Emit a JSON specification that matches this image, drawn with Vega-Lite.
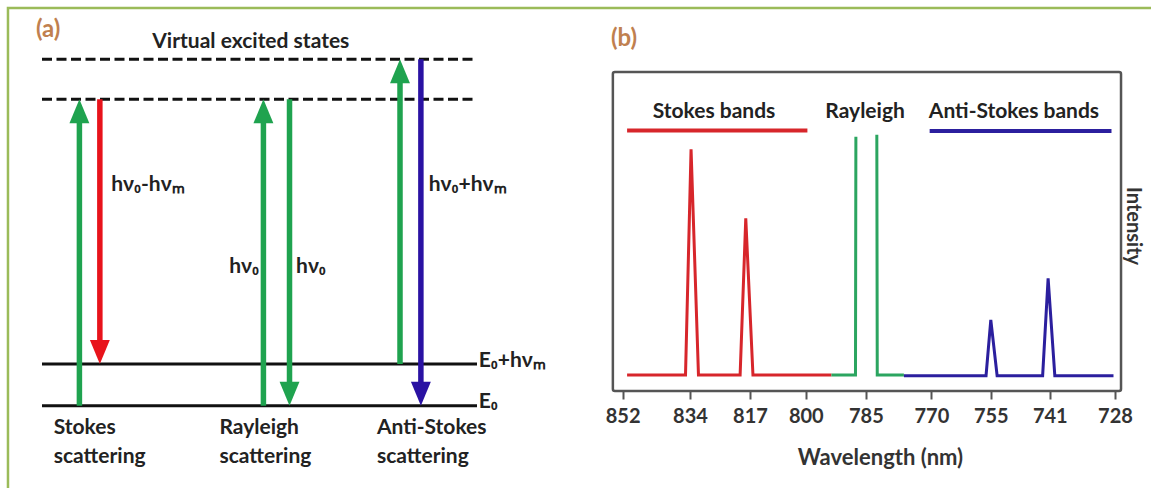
{
  "$schema": "https://vega.github.io/schema/vega-lite/v6.json",
  "width": 1151,
  "height": 488,
  "autosize": {"type": "none"},
  "padding": 0,
  "background": "white",
  "config": {"view": {"stroke": null}},
  "datasets": {
    "border": [{"x": -7.82, "x2": 300, "y": 9.54, "y2": -3}],
    "levels": [
      {"level": "E0", "x0": 0, "x1": 100, "y": 0, "style": "solid"},
      {"level": "E0+hvm", "x0": 0, "x1": 100, "y": 1, "style": "solid"},
      {"level": "virtual 1", "x0": 0, "x1": 100, "y": 7.35, "style": "dashed"},
      {"level": "virtual 2", "x0": 0, "x1": 100, "y": 8.31, "style": "dashed"}
    ],
    "arrows": [
      {"x": 8.6, "from": 0, "to": 7.35, "kind": "incident", "dir": "up"},
      {"x": 13.3, "from": 7.35, "to": 1, "kind": "stokes", "dir": "down"},
      {"x": 50.9, "from": 0, "to": 7.35, "kind": "incident", "dir": "up"},
      {"x": 56.9, "from": 7.35, "to": 0, "kind": "rayleigh", "dir": "down"},
      {"x": 82.3, "from": 1, "to": 8.31, "kind": "incident", "dir": "up"},
      {"x": 87.1, "from": 8.31, "to": 0, "kind": "antistokes", "dir": "down"}
    ],
    "textsA": [
      {"t": "hν₀-hνₘ", "x": 15.9, "y": 5.29, "al": "left"},
      {"t": "hν₀+hνₘ", "x": 88.9, "y": 5.29, "al": "left"},
      {"t": "hν₀", "x": 58.4, "y": 3.33, "al": "left"},
      {"t": "hν₀", "x": 49.9, "y": 3.33, "al": "right"},
      {"t": "E₀+hνₘ", "x": 100.4, "y": 1.06, "al": "left"},
      {"t": "E₀", "x": 100.4, "y": 0.1, "al": "left"},
      {"t": "Stokes", "x": 2.7, "y": -0.54, "al": "left"},
      {"t": "scattering", "x": 2.7, "y": -1.22, "al": "left"},
      {"t": "Rayleigh", "x": 40.8, "y": -0.54, "al": "left"},
      {"t": "scattering", "x": 40.8, "y": -1.22, "al": "left"},
      {"t": "Anti-Stokes", "x": 77, "y": -0.54, "al": "left"},
      {"t": "scattering", "x": 77, "y": -1.22, "al": "left"},
      {"t": "Virtual excited states", "x": 48, "y": 8.72, "al": "center"}
    ],
    "panelA": [{"t": "(a)", "x": -1.4, "y": 9.01}],
    "frameB": [{"wl0": 854.6, "wl1": 726.8, "i0": 0, "i1": 100}],
    "spectrum": [
      {"wl": 850.8, "int": 5, "band": "stokes", "seg": "s", "i": 0},
      {"wl": 835.2, "int": 5, "band": "stokes", "seg": "s", "i": 1},
      {"wl": 833.7, "int": 75.8, "band": "stokes", "seg": "s", "i": 2},
      {"wl": 831.6, "int": 5, "band": "stokes", "seg": "s", "i": 3},
      {"wl": 819.8, "int": 5, "band": "stokes", "seg": "s", "i": 4},
      {"wl": 818.2, "int": 54.1, "band": "stokes", "seg": "s", "i": 5},
      {"wl": 816.1, "int": 5, "band": "stokes", "seg": "s", "i": 6},
      {"wl": 793.6, "int": 5, "band": "stokes", "seg": "s", "i": 7},
      {"wl": 793.6, "int": 5, "band": "rayleigh", "seg": "r1", "i": 8},
      {"wl": 787.6, "int": 5, "band": "rayleigh", "seg": "r1", "i": 9},
      {"wl": 787.5, "int": 79.7, "band": "rayleigh", "seg": "r1", "i": 10},
      {"wl": 782.5, "int": 80.3, "band": "rayleigh", "seg": "r2", "i": 11},
      {"wl": 782.4, "int": 5, "band": "rayleigh", "seg": "r2", "i": 12},
      {"wl": 776.3, "int": 5, "band": "rayleigh", "seg": "r2", "i": 13},
      {"wl": 776.3, "int": 4.8, "band": "antistokes", "seg": "a", "i": 14},
      {"wl": 756.2, "int": 4.8, "band": "antistokes", "seg": "a", "i": 15},
      {"wl": 755.0, "int": 22.3, "band": "antistokes", "seg": "a", "i": 16},
      {"wl": 753.5, "int": 4.8, "band": "antistokes", "seg": "a", "i": 17},
      {"wl": 742.7, "int": 4.8, "band": "antistokes", "seg": "a", "i": 18},
      {"wl": 741.4, "int": 35.3, "band": "antistokes", "seg": "a", "i": 19},
      {"wl": 740.0, "int": 4.8, "band": "antistokes", "seg": "a", "i": 20},
      {"wl": 728.3, "int": 4.8, "band": "antistokes", "seg": "a", "i": 21}
    ],
    "headers": [
      {"band": "stokes", "from": 850.8, "to": 799.6, "int": 81.7},
      {"band": "antistokes", "from": 770.4, "to": 728.7, "int": 81.5}
    ],
    "textsB": [
      {"t": "Stokes bands", "wl": 827.2, "int": 87.6},
      {"t": "Rayleigh", "wl": 785.2, "int": 87.6},
      {"t": "Anti-Stokes bands", "wl": 749.5, "int": 87.6}
    ],
    "panelB": [{"t": "(b)", "wl": 855.1, "int": 110.3}],
    "intensity": [{"t": "Intensity", "wl": 724.4, "int": 51.7}]
  },
  "layer": [
    {
      "data": {"name": "border"},
      "mark": {"type": "rect", "fillOpacity": 0, "stroke": "#9BBB59", "strokeWidth": 2.5},
      "encoding": {
        "x": {"field": "x", "type": "quantitative", "scale": {"type": "linear", "domain": [0, 100], "range": [42, 477], "nice": false, "zero": false}, "axis": null},
        "x2": {"field": "x2"},
        "y": {"field": "y", "type": "quantitative", "scale": {"type": "linear", "domain": [0, 1], "range": [405.7, 364], "nice": false, "zero": false}, "axis": null},
        "y2": {"field": "y2"}
      }
    },
    {
      "data": {"name": "levels"},
      "transform": [{"filter": "datum.style === 'solid'"}],
      "mark": {"type": "rule", "color": "#111111", "strokeWidth": 3},
      "encoding": {
        "x": {"field": "x0", "type": "quantitative", "scale": {"type": "linear", "domain": [0, 100], "range": [42, 477], "nice": false, "zero": false}, "axis": null},
        "x2": {"field": "x1"},
        "y": {"field": "y", "type": "quantitative", "scale": {"type": "linear", "domain": [0, 1], "range": [405.7, 364], "nice": false, "zero": false}, "axis": null}
      }
    },
    {
      "data": {"name": "levels"},
      "transform": [{"filter": "datum.style === 'dashed'"}],
      "mark": {"type": "rule", "color": "#111111", "strokeWidth": 3, "strokeDash": [10, 4.5]},
      "encoding": {
        "x": {"field": "x0", "type": "quantitative", "scale": {"type": "linear", "domain": [0, 100], "range": [42, 477], "nice": false, "zero": false}, "axis": null},
        "x2": {"field": "x1"},
        "y": {"field": "y", "type": "quantitative", "scale": {"type": "linear", "domain": [0, 1], "range": [405.7, 364], "nice": false, "zero": false}, "axis": null}
      }
    },
    {
      "data": {"name": "arrows"},
      "transform": [{"filter": "datum.dir === 'up'"}],
      "mark": {"type": "rule", "strokeWidth": 5.5, "y2Offset": 12},
      "encoding": {
        "x": {"field": "x", "type": "quantitative", "scale": {"type": "linear", "domain": [0, 100], "range": [42, 477], "nice": false, "zero": false}, "axis": null},
        "y": {"field": "from", "type": "quantitative", "scale": {"type": "linear", "domain": [0, 1], "range": [405.7, 364], "nice": false, "zero": false}, "axis": null},
        "y2": {"field": "to"},
        "color": {"field": "kind", "type": "nominal", "scale": {"domain": ["incident", "stokes", "rayleigh", "antistokes"], "range": ["#1FA34F", "#E8131B", "#1FA34F", "#2A12A3"]}, "legend": null}
      }
    },
    {
      "data": {"name": "arrows"},
      "transform": [{"filter": "datum.dir === 'down'"}],
      "mark": {"type": "rule", "strokeWidth": 5.5, "y2Offset": -12},
      "encoding": {
        "x": {"field": "x", "type": "quantitative", "scale": {"type": "linear", "domain": [0, 100], "range": [42, 477], "nice": false, "zero": false}, "axis": null},
        "y": {"field": "from", "type": "quantitative", "scale": {"type": "linear", "domain": [0, 1], "range": [405.7, 364], "nice": false, "zero": false}, "axis": null},
        "y2": {"field": "to"},
        "color": {"field": "kind", "type": "nominal", "scale": {"domain": ["incident", "stokes", "rayleigh", "antistokes"], "range": ["#1FA34F", "#E8131B", "#1FA34F", "#2A12A3"]}, "legend": null}
      }
    },
    {
      "data": {"name": "arrows"},
      "transform": [{"filter": "datum.dir === 'up'"}],
      "mark": {"type": "point", "shape": "M0,0L-0.83,2L0.83,2Z", "size": 576, "filled": true, "opacity": 1, "strokeWidth": 0},
      "encoding": {
        "x": {"field": "x", "type": "quantitative", "scale": {"type": "linear", "domain": [0, 100], "range": [42, 477], "nice": false, "zero": false}, "axis": null},
        "y": {"field": "to", "type": "quantitative", "scale": {"type": "linear", "domain": [0, 1], "range": [405.7, 364], "nice": false, "zero": false}, "axis": null},
        "color": {"field": "kind", "type": "nominal", "scale": {"domain": ["incident", "stokes", "rayleigh", "antistokes"], "range": ["#1FA34F", "#E8131B", "#1FA34F", "#2A12A3"]}, "legend": null}
      }
    },
    {
      "data": {"name": "arrows"},
      "transform": [{"filter": "datum.dir === 'down'"}],
      "mark": {"type": "point", "shape": "M0,0L-0.83,-2L0.83,-2Z", "size": 576, "filled": true, "opacity": 1, "strokeWidth": 0},
      "encoding": {
        "x": {"field": "x", "type": "quantitative", "scale": {"type": "linear", "domain": [0, 100], "range": [42, 477], "nice": false, "zero": false}, "axis": null},
        "y": {"field": "to", "type": "quantitative", "scale": {"type": "linear", "domain": [0, 1], "range": [405.7, 364], "nice": false, "zero": false}, "axis": null},
        "color": {"field": "kind", "type": "nominal", "scale": {"domain": ["incident", "stokes", "rayleigh", "antistokes"], "range": ["#1FA34F", "#E8131B", "#1FA34F", "#2A12A3"]}, "legend": null}
      }
    },
    {
      "data": {"name": "textsA"},
      "transform": [{"filter": "datum.al === 'left'"}],
      "mark": {"type": "text", "align": "left", "baseline": "middle", "font": "Lato, sans-serif", "fontSize": 21, "fontWeight": "bold", "color": "#222222"},
      "encoding": {
        "x": {"field": "x", "type": "quantitative", "scale": {"type": "linear", "domain": [0, 100], "range": [42, 477], "nice": false, "zero": false}, "axis": null},
        "y": {"field": "y", "type": "quantitative", "scale": {"type": "linear", "domain": [0, 1], "range": [405.7, 364], "nice": false, "zero": false}, "axis": null},
        "text": {"field": "t"}
      }
    },
    {
      "data": {"name": "textsA"},
      "transform": [{"filter": "datum.al === 'right'"}],
      "mark": {"type": "text", "align": "right", "baseline": "middle", "font": "Lato, sans-serif", "fontSize": 21, "fontWeight": "bold", "color": "#222222"},
      "encoding": {
        "x": {"field": "x", "type": "quantitative", "scale": {"type": "linear", "domain": [0, 100], "range": [42, 477], "nice": false, "zero": false}, "axis": null},
        "y": {"field": "y", "type": "quantitative", "scale": {"type": "linear", "domain": [0, 1], "range": [405.7, 364], "nice": false, "zero": false}, "axis": null},
        "text": {"field": "t"}
      }
    },
    {
      "data": {"name": "textsA"},
      "transform": [{"filter": "datum.al === 'center'"}],
      "mark": {"type": "text", "align": "center", "baseline": "middle", "font": "Lato, sans-serif", "fontSize": 21, "fontWeight": "bold", "color": "#222222"},
      "encoding": {
        "x": {"field": "x", "type": "quantitative", "scale": {"type": "linear", "domain": [0, 100], "range": [42, 477], "nice": false, "zero": false}, "axis": null},
        "y": {"field": "y", "type": "quantitative", "scale": {"type": "linear", "domain": [0, 1], "range": [405.7, 364], "nice": false, "zero": false}, "axis": null},
        "text": {"field": "t"}
      }
    },
    {
      "data": {"name": "panelA"},
      "mark": {"type": "text", "align": "left", "baseline": "middle", "font": "Lato, sans-serif", "fontSize": 24, "fontWeight": "bold", "color": "#C0804F"},
      "encoding": {
        "x": {"field": "x", "type": "quantitative", "scale": {"type": "linear", "domain": [0, 100], "range": [42, 477], "nice": false, "zero": false}, "axis": null},
        "y": {"field": "y", "type": "quantitative", "scale": {"type": "linear", "domain": [0, 1], "range": [405.7, 364], "nice": false, "zero": false}, "axis": null},
        "text": {"field": "t"}
      }
    },
    {
      "data": {"name": "frameB"},
      "mark": {"type": "rect", "fillOpacity": 0, "stroke": "#555555", "strokeWidth": 2.5, "cornerRadius": 2},
      "encoding": {
        "x": {"field": "wl0", "type": "quantitative",
              "scale": {"type": "linear", "domain": [728, 741, 755, 770, 785, 800, 817, 834, 852], "range": [1115, 1049.8, 990.8, 931.4, 865.9, 805.8, 750, 690, 622.6], "nice": false, "zero": false},
              "axis": {"values": [852, 834, 817, 800, 785, 770, 755, 741, 728], "orient": "bottom", "offset": -97, "domain": false, "grid": false,
                       "tickSize": 8, "tickWidth": 2, "tickColor": "#555555", "labelFlush": false, "labelOverlap": false, "labelBound": false,
                       "labelFont": "Lato, sans-serif", "labelFontSize": 20, "labelFontWeight": "bold", "labelColor": "#333333", "labelPadding": 7,
                       "title": "Wavelength (nm)", "titleFont": "Lato, sans-serif", "titleFontSize": 22, "titleFontWeight": "bold", "titleColor": "#333333",
                       "titleX": 880, "titleY": 66, "titleBaseline": "middle", "titleAlign": "center"}},
        "x2": {"field": "wl1"},
        "y": {"field": "i0", "type": "quantitative", "scale": {"type": "linear", "domain": [0, 100], "range": [391, 72], "nice": false, "zero": false}, "axis": null},
        "y2": {"field": "i1"}
      }
    },
    {
      "data": {"name": "spectrum"},
      "mark": {"type": "line", "strokeWidth": 3},
      "encoding": {
        "x": {"field": "wl", "type": "quantitative", "scale": {"type": "linear", "domain": [728, 741, 755, 770, 785, 800, 817, 834, 852], "range": [1115, 1049.8, 990.8, 931.4, 865.9, 805.8, 750, 690, 622.6], "nice": false, "zero": false}, "axis": null},
        "y": {"field": "int", "type": "quantitative", "scale": {"type": "linear", "domain": [0, 100], "range": [391, 72], "nice": false, "zero": false}, "axis": null},
        "color": {"field": "band", "type": "nominal", "scale": {"domain": ["stokes", "rayleigh", "antistokes"], "range": ["#D7262B", "#2BA560", "#2B1F9E"]}, "legend": null},
        "detail": {"field": "seg"},
        "order": {"field": "i", "type": "quantitative"}
      }
    },
    {
      "data": {"name": "headers"},
      "mark": {"type": "rule", "strokeWidth": 4},
      "encoding": {
        "x": {"field": "from", "type": "quantitative", "scale": {"type": "linear", "domain": [728, 741, 755, 770, 785, 800, 817, 834, 852], "range": [1115, 1049.8, 990.8, 931.4, 865.9, 805.8, 750, 690, 622.6], "nice": false, "zero": false}, "axis": null},
        "x2": {"field": "to"},
        "y": {"field": "int", "type": "quantitative", "scale": {"type": "linear", "domain": [0, 100], "range": [391, 72], "nice": false, "zero": false}, "axis": null},
        "color": {"field": "band", "type": "nominal", "scale": {"domain": ["stokes", "rayleigh", "antistokes"], "range": ["#D7262B", "#2BA560", "#2B1F9E"]}, "legend": null}
      }
    },
    {
      "data": {"name": "textsB"},
      "mark": {"type": "text", "align": "center", "baseline": "middle", "font": "Lato, sans-serif", "fontSize": 21, "fontWeight": "bold", "color": "#222222"},
      "encoding": {
        "x": {"field": "wl", "type": "quantitative", "scale": {"type": "linear", "domain": [728, 741, 755, 770, 785, 800, 817, 834, 852], "range": [1115, 1049.8, 990.8, 931.4, 865.9, 805.8, 750, 690, 622.6], "nice": false, "zero": false}, "axis": null},
        "y": {"field": "int", "type": "quantitative", "scale": {"type": "linear", "domain": [0, 100], "range": [391, 72], "nice": false, "zero": false}, "axis": null},
        "text": {"field": "t"}
      }
    },
    {
      "data": {"name": "panelB"},
      "mark": {"type": "text", "align": "left", "baseline": "middle", "font": "Lato, sans-serif", "fontSize": 24, "fontWeight": "bold", "color": "#C0804F"},
      "encoding": {
        "x": {"field": "wl", "type": "quantitative", "scale": {"type": "linear", "domain": [728, 741, 755, 770, 785, 800, 817, 834, 852], "range": [1115, 1049.8, 990.8, 931.4, 865.9, 805.8, 750, 690, 622.6], "nice": false, "zero": false}, "axis": null},
        "y": {"field": "int", "type": "quantitative", "scale": {"type": "linear", "domain": [0, 100], "range": [391, 72], "nice": false, "zero": false}, "axis": null},
        "text": {"field": "t"}
      }
    },
    {
      "data": {"name": "intensity"},
      "mark": {"type": "text", "align": "center", "baseline": "middle", "angle": 90, "font": "Lato, sans-serif", "fontSize": 20, "fontWeight": "bold", "color": "#333333"},
      "encoding": {
        "x": {"field": "wl", "type": "quantitative", "scale": {"type": "linear", "domain": [728, 741, 755, 770, 785, 800, 817, 834, 852], "range": [1115, 1049.8, 990.8, 931.4, 865.9, 805.8, 750, 690, 622.6], "nice": false, "zero": false}, "axis": null},
        "y": {"field": "int", "type": "quantitative", "scale": {"type": "linear", "domain": [0, 100], "range": [391, 72], "nice": false, "zero": false}, "axis": null},
        "text": {"field": "t"}
      }
    }
  ],
  "resolve": {
    "scale": {"x": "independent", "y": "independent", "color": "independent"},
    "axis": {"x": "independent", "y": "independent"}
  }
}
